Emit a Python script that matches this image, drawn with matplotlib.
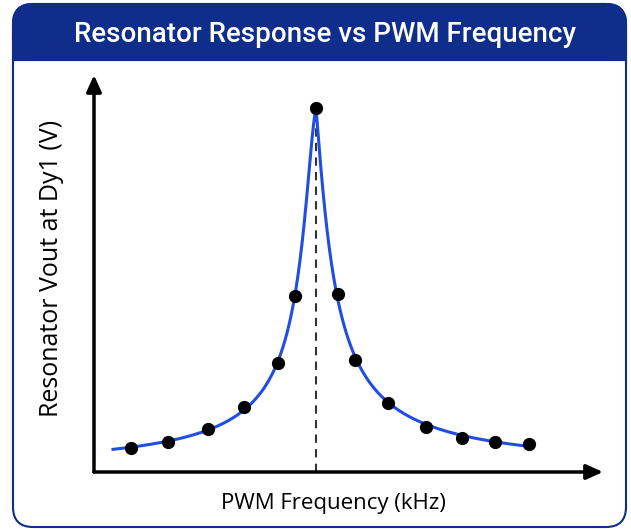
import matplotlib

matplotlib.use("Agg")
import matplotlib.pyplot as plt  # noqa: E402
import numpy as np  # noqa: E402
from matplotlib.patches import FancyBboxPatch, Rectangle  # noqa: E402

freq_khz = [21.5, 25.2, 29.2, 32.8, 36.2, 37.9, 40.0, 42.2, 43.9, 47.2, 51.0, 54.6, 57.9, 61.3]
vout = [0.24, 0.30, 0.43, 0.65, 1.09, 1.76, 3.64, 1.78, 1.12, 0.69, 0.45, 0.34, 0.30, 0.28]
curve_start_khz = 19.7

TITLE = "Resonator Response vs PWM Frequency"
XLABEL = "PWM Frequency (kHz)"
YLABEL = "Resonator Vout at Dy1 (V)"

NAVY = "#0f2d8a"
BLUE = "#1f4ee0"

f = np.array(freq_khz)
v = np.array(vout)


def fit_side(mask, f0, v0):
    # 1/v^2 - 1/v0^2 = a*|df| + b*df^2, weighted for relative error in v
    d = np.abs(f[mask] - f0)
    y = 1.0 / v[mask] ** 2 - 1.0 / v0 ** 2
    w = v[mask] ** 2
    A = np.column_stack([d, d ** 2]) * w[:, None]
    (a, b), *_ = np.linalg.lstsq(A, y * w, rcond=None)
    return a, b


ipk = int(np.argmax(v))
f0, v0 = f[ipk], v[ipk]
a_lo, b_lo = fit_side(f < f0, f0, v0)
a_hi, b_hi = fit_side(f > f0, f0, v0)

fc = np.linspace(curve_start_khz, f[-1], 800)
dc = np.abs(fc - f0)
aa = np.where(fc < f0, a_lo, a_hi)
bb = np.where(fc < f0, b_lo, b_hi)
vc = 1.0 / np.sqrt(1.0 / v0 ** 2 + aa * dc + bb * dc ** 2)

W, H = 631, 529
fig = plt.figure(figsize=(W / 100, H / 100), dpi=100)

# frame + title banner drawn in pixel coordinates
bg = fig.add_axes([0, 0, 1, 1])
bg.set_xlim(0, W)
bg.set_ylim(H, 0)
bg.axis("off")
bg.add_patch(FancyBboxPatch((13, 4), 613, 523, boxstyle="round,pad=0,rounding_size=20",
                            fc="white", ec=NAVY, lw=1.5))
bg.add_patch(FancyBboxPatch((13, 4), 613, 56, boxstyle="round,pad=0,rounding_size=20",
                            fc=NAVY, ec=NAVY, lw=1.5))
bg.add_patch(Rectangle((13, 35), 613, 25, fc=NAVY, ec=NAVY, lw=1.5))
bg.text(W / 2 + 10, 35, TITLE, color="white", fontsize=20, fontfamily="Roboto",
        fontweight="medium", ha="center", va="center")

# plotting area: x axis at y=472px, y axis at x=94px
x0, x1, ytop, ybot = 94, 603, 75, 472
ax = fig.add_axes([x0 / W, (H - ybot) / H, (x1 - x0) / W, (ybot - ytop) / H])
ax.patch.set_alpha(0)
ax.set_xlim(f0 - (316 - x0) / 10, f0 + (x1 - 316) / 10)
ax.set_ylim(0, (ybot - ytop) / 100)
for s in ax.spines.values():
    s.set_visible(False)
ax.set_xticks([])
ax.set_yticks([])

arrow = dict(arrowstyle="-|>,head_length=1.0,head_width=0.45", color="black", lw=2.5,
             shrinkA=0, shrinkB=0)
ax.annotate("", xy=(1, 0), xytext=(0, 0), xycoords="axes fraction", arrowprops=arrow,
            annotation_clip=False)
ax.annotate("", xy=(0, 1), xytext=(0, 0), xycoords="axes fraction", arrowprops=arrow,
            annotation_clip=False)

ax.plot([f0, f0], [0, v0], color="#333333", lw=1.5, ls=(0, (4, 3)), zorder=2)
ax.plot(fc, vc, color=BLUE, lw=2.2, zorder=3, clip_on=False)
ax.plot(f, v, "o", color="black", ms=8.5, zorder=4, clip_on=False)

fig.text(333 / W, 1 - 504 / H, XLABEL, fontsize=16, fontfamily="Open Sans",
         ha="center", va="center")
fig.text(52 / W, 1 - 268 / H, YLABEL, fontsize=18, fontfamily="Open Sans",
         ha="center", va="center", rotation=90)

fig.savefig("out.png", dpi=100)
